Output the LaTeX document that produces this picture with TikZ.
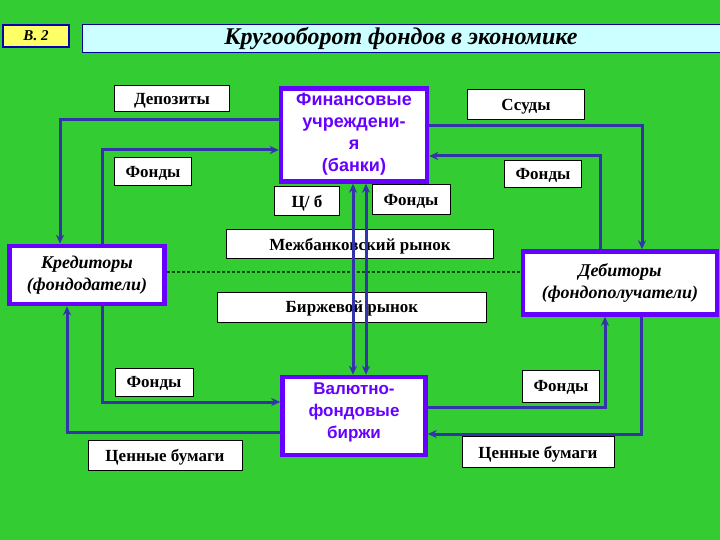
\documentclass[tikz,border=0pt]{standalone}
\usepackage{fontspec}
\setmainfont{Liberation Serif}
\newfontfamily\sansf{Liberation Sans}
\usetikzlibrary{arrows.meta}
\definecolor{bg}{HTML}{33CC33}
\definecolor{pur}{HTML}{6600FF}
\definecolor{ln}{HTML}{3333AA}
\definecolor{ttl}{HTML}{CCFFFF}
\definecolor{yel}{HTML}{FFFF66}
\begin{document}
\begin{tikzpicture}[x=1pt,y=1pt,
 lbl/.style={draw=black,fill=white,line width=1pt,font=\fontsize{17}{19}\selectfont\bfseries,inner sep=0pt,text depth=0pt},
 big/.style={draw=pur,fill=white,line width=4.5pt,inner sep=0pt,align=center},
 con/.style={draw=ln,line width=3pt,-{Stealth[length=9pt,width=8pt]}},
 dcon/.style={draw=ln,line width=3pt,{Stealth[length=9pt,width=8pt]}-{Stealth[length=9pt,width=8pt]}}]
\fill[bg] (0,0) rectangle (720,-540);
\useasboundingbox (0,0) rectangle (720,-540);
\node[draw=blue!70!black,fill=yel,line width=2.5pt,minimum width=66pt,minimum height=22pt,font=\fontsize{15}{16}\selectfont\bfseries\itshape] (b2) at (36,-36) {B. 2};
\node[draw=blue!60!black,fill=ttl,line width=1pt,minimum width=640pt,minimum height=28pt,inner sep=0pt] (title) at (402,-39) {};
\node[font=\fontsize{24}{26}\selectfont\bfseries\itshape] (tt) at (401,-39) {Кругооборот фондов в экономике};
\node[lbl,minimum width=115pt,minimum height=26pt] (dep) at (172,-99) {Депозиты};
\node[lbl,minimum width=77pt,minimum height=28pt] (f1) at (153,-172) {Фонды};
\node[big,minimum width=146pt,minimum height=93pt] (bank) at (354,-135) {};
\begin{scope}
\clip (281,-88) rectangle (427,-181);
\node[font=\sansf\fontsize{18}{22}\selectfont\bfseries,text=pur,align=center,anchor=north] (bt) at (354,-89) {Финансовые\\учреждени-\\я\\(банки)};
\end{scope}
\node[lbl,minimum width=65pt,minimum height=29pt] (cb) at (307,-201) {Ц/ б};
\node[lbl,minimum width=78pt,minimum height=30pt] (f2) at (411,-200) {Фонды};
\node[lbl,minimum width=117pt,minimum height=30pt] (ss) at (526,-105) {Ссуды};
\node[lbl,minimum width=77pt,minimum height=27pt] (f3) at (543,-174) {Фонды};
\node[lbl,minimum width=267pt,minimum height=28pt] (mb) at (360,-244) {Межбанковский рынок};
\node[lbl,minimum width=269pt,minimum height=30pt] (br) at (352,-307) {Биржевой рынок};
\node[big,minimum width=155pt,minimum height=58pt,font=\fontsize{18}{22}\selectfont\bfseries\itshape] (kr) at (87,-275) {Кредиторы\\(фондодатели)};
\node[big,minimum width=194pt,minimum height=63pt,font=\fontsize{18}{22}\selectfont\bfseries\itshape] (db) at (620,-283) {Дебиторы\\(фондополучатели)};
\node[lbl,minimum width=78pt,minimum height=28pt] (f4) at (154,-382) {Фонды};
\node[lbl,minimum width=154pt,minimum height=30pt] (cb1) at (165,-455) {Ценные бумаги};
\node[big,minimum width=143pt,minimum height=78pt] (ex) at (354,-416) {};
\node[font=\sansf\fontsize{17}{22}\selectfont\bfseries,text=pur,align=center] (et) at (354,-412) {Валютно-\\фондовые\\биржи};
\node[lbl,minimum width=77pt,minimum height=32pt] (f5) at (561,-386) {Фонды};
\node[lbl,minimum width=152pt,minimum height=31pt] (cb2) at (538,-452) {Ценные бумаги};
% dotted
\draw[draw=green!30!black,line width=2.5pt,dash pattern=on 3pt off 2pt] (kr.east|-0,-272) -- (db.west|-0,-272);
% connectors
\draw[con] (bank.west|-0,-120) -| (60,0|-kr.north);
\draw[con] (102,0|-kr.north) |- (bank.west|-0,-150);
\draw[con] (bank.east|-0,-126) -| (642,0|-db.north);
\draw[con] (600,0|-db.north) |- (bank.east|-0,-156);
\draw[con] (102,0|-kr.south) |- (ex.west|-0,-402);
\draw[con] (ex.west|-0,-432) -| (67,0|-kr.south);
\draw[con] (ex.east|-0,-407) -| (605,0|-db.south);
\draw[con] (641,0|-db.south) |- (ex.east|-0,-434);
\draw[dcon] (353,0|-bank.south) -- (353,0|-ex.north);
\draw[dcon] (366,0|-bank.south) -- (366,0|-ex.north);
\end{tikzpicture}
\end{document}
